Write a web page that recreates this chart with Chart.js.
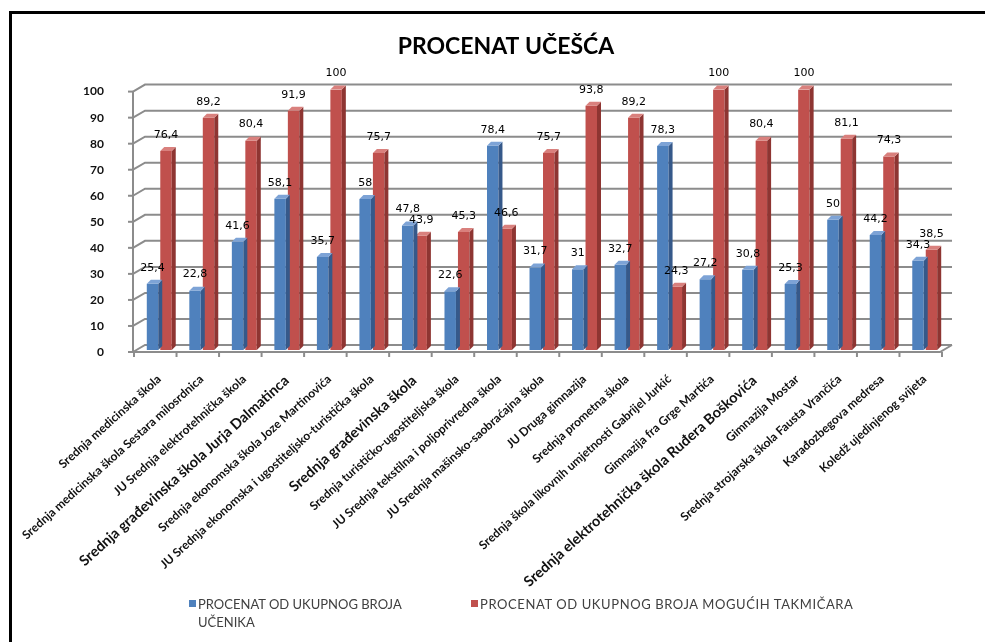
<!DOCTYPE html>
<html>
<head>
<meta charset="utf-8">
<script src="https://cdn.jsdelivr.net/npm/chart.js@4/dist/chart.umd.min.js"></script>
<style>
  html, body { margin: 0; padding: 0; background: #fff; }
  #wrap { position: relative; width: 985px; height: 642px; overflow: hidden; }
  #frame { position: absolute; left: 9px; top: 11px; right: -5px; bottom: -5px;
           border-top: 3px solid #000; border-left: 3px solid #000; }
  canvas { position: absolute; left: 0; top: 0; }
  .leg { position: absolute; font-family: Lato, sans-serif; font-size: 13px; color: #404040; line-height: 18px; }
  .leg i { position: absolute; left: -9px; top: 5px; width: 7px; height: 7px; }
</style>
</head>
<body>
<div id="wrap">
  <div id="frame"></div>
  <canvas id="myChart" width="985" height="642"></canvas>
  <div class="leg" style="left:198px; top:595px; width:215px;"><i style="background:#4F81BD"></i>PROCENAT OD UKUPNOG BROJA UČENIKA</div>
  <div class="leg" style="left:480px; top:595px; white-space:nowrap; letter-spacing:0.6px;"><i style="background:#C0504D"></i>PROCENAT OD UKUPNOG BROJA MOGUĆIH TAKMIČARA</div>
</div>
<script>
// skole
var categories = [
    'Srednja medicinska škola',
    'Srednja medicinska škola Sestara milosrdnica',
    'JU Srednja elektrotehnička škola',
    'Srednja građevinska škola Jurja Dalmatinca',
    'Srednja ekonomska škola Joze Martinovića',
    'JU Srednja ekonomska i ugostiteljsko-turistička škola',
    'Srednja građevinska škola',
    'Srednja turističko-ugostiteljska škola',
    'JU Srednja tekstilna i poljoprivredna škola',
    'JU Srednja mašinsko-saobraćajna škola',
    'JU Druga gimnazija',
    'Srednja prometna škola',
    'Srednja škola likovnih umjetnosti Gabrijel Jurkić',
    'Gimnazija fra Grge Martića',
    'Srednja elektrotehnička škola Ruđera Boškovića',
    'Gimnazija Mostar',
    'Srednja strojarska škola Fausta Vrančića',
    'Karađozbegova medresa',
    'Koledž ujedinjenog svijeta'
];
var boldLabels = [3, 6, 14];

var ucenici = [25.4, 22.8, 41.6, 58.1, 35.7, 58, 47.8, 22.6, 78.4, 31.7, 31, 32.7, 78.3, 27.2, 30.8, 25.3, 50, 44.2, 34.3];
var takmicari = [76.4, 89.2, 80.4, 91.9, 100, 75.7, 43.9, 45.3, 46.6, 75.7, 93.8, 89.2, 24.3, 100, 80.4, 100, 81.1, 74.3, 38.5];

var yMin = 0, yMax = 100, yStep = 10;

var sideColors = ['#36598a', '#8e3532'];
var topColors = ['#7da3d6', '#d9807d'];

// 3d zid i pod
var wallPlugin = {
    id: 'wall',
    beforeDatasetsDraw: function (chart) {
        var c = chart.ctx, a = chart.chartArea, ys = chart.scales.y, xs = chart.scales.x;
        var fx = a.left - 5, bx = a.left + 7, d = 7;
        c.save();
        c.strokeStyle = '#8c8c8c';
        c.lineWidth = 2;
        for (var v = yMin; v <= yMax; v += yStep) {
            var y = ys.getPixelForValue(v) + 2;
            c.beginPath();
            c.moveTo(fx, y);
            c.lineTo(bx, y - d);
            c.lineTo(a.right + 6, y - d);
            c.stroke();
            c.beginPath();
            c.moveTo(fx - 5, y);
            c.lineTo(fx, y);
            c.stroke();
        }
        var y0 = ys.getPixelForValue(0) + 2;
        c.beginPath();
        c.moveTo(fx, ys.getPixelForValue(yMax) + 2);
        c.lineTo(fx, y0);
        c.lineTo(a.right - 6, y0);
        c.lineTo(a.right + 6, y0 - d);
        c.stroke();
        for (var i = 0; i <= categories.length; i++) {
            var x = xs.getPixelForValue(i - 0.5) - 4;
            c.beginPath();
            c.moveTo(x, y0);
            c.lineTo(x, y0 + 5);
            c.stroke();
        }
        c.restore();
    }
};

// bocne strane stupaca i vrijednosti
var barPlugin = {
    id: 'bars3d',
    afterDatasetDraw: function (chart, args) {
        var c = chart.ctx, i = args.index, s = 4;
        var meta = chart.getDatasetMeta(i);
        c.save();
        meta.data.forEach(function (bar) {
            var l = bar.x - bar.width / 2, r = bar.x + bar.width / 2;
            c.fillStyle = sideColors[i];
            c.beginPath();
            c.moveTo(r, bar.y);
            c.lineTo(r + s, bar.y - s);
            c.lineTo(r + s, bar.base - s);
            c.lineTo(r, bar.base);
            c.closePath();
            c.fill();
            c.fillStyle = topColors[i];
            c.beginPath();
            c.moveTo(l, bar.y);
            c.lineTo(l + s, bar.y - s);
            c.lineTo(r + s, bar.y - s);
            c.lineTo(r, bar.y);
            c.closePath();
            c.fill();
        });
        c.restore();
    },
    afterDatasetsDraw: function (chart) {
        var c = chart.ctx;
        c.save();
        c.font = '11px "DejaVu Sans"';
        c.fillStyle = '#000';
        c.textAlign = 'center';
        c.textBaseline = 'middle';
        chart.data.datasets.forEach(function (ds, i) {
            chart.getDatasetMeta(i).data.forEach(function (bar, j) {
                c.fillText(String(ds.data[j]).replace('.', ','), bar.x, bar.y - 16);
            });
        });
        c.restore();
    }
};

var ctx = document.getElementById('myChart');
var myChart = new Chart(ctx, {
    type: 'bar',
    data: {
        labels: categories,
        datasets: [{
            label: 'PROCENAT OD UKUPNOG BROJA UČENIKA',
            data: ucenici,
            backgroundColor: '#4F81BD'
        }, {
            label: 'PROCENAT OD UKUPNOG BROJA MOGUĆIH TAKMIČARA',
            data: takmicari,
            backgroundColor: '#C0504D'
        }]
    },
    plugins: [wallPlugin, barPlugin],
    options: {
        responsive: false,
        animation: false,
        categoryPercentage: 0.634,
        barPercentage: 0.85,
        layout: {
            padding: { left: 66, right: 39, top: 10, bottom: 0 }
        },
        plugins: {
            legend: { display: false },
            tooltip: { enabled: false },
            title: {
                display: true,
                text: 'PROCENAT UČEŠĆA',
                color: '#000',
                font: { family: 'Lato', size: 23, weight: 'bold' },
                padding: { top: 23, bottom: 29 }
            }
        },
        scales: {
            x: {
                grid: { display: false },
                border: { display: false },
                afterFit: function (scale) { scale.height = 292; },
                ticks: {
                    autoSkip: false,
                    minRotation: 42,
                    maxRotation: 42,
                    padding: 14,
                    color: '#111',
                    font: function (c) {
                        if (boldLabels.indexOf(c.index) !== -1) {
                            return { family: 'Lato', size: 14.5, weight: 'bold' };
                        }
                        return { family: 'Lato', size: 12, weight: 'bold' };
                    }
                }
            },
            y: {
                min: yMin,
                max: yMax,
                grid: { display: false },
                border: { display: false },
                afterFit: function (scale) { scale.width = 72; },
                ticks: {
                    stepSize: yStep,
                    padding: 26,
                    labelOffset: 2,
                    color: '#111',
                    font: { family: 'Lato', size: 12, weight: 'bold' }
                }
            }
        }
    }
});
</script>
</body>
</html>
